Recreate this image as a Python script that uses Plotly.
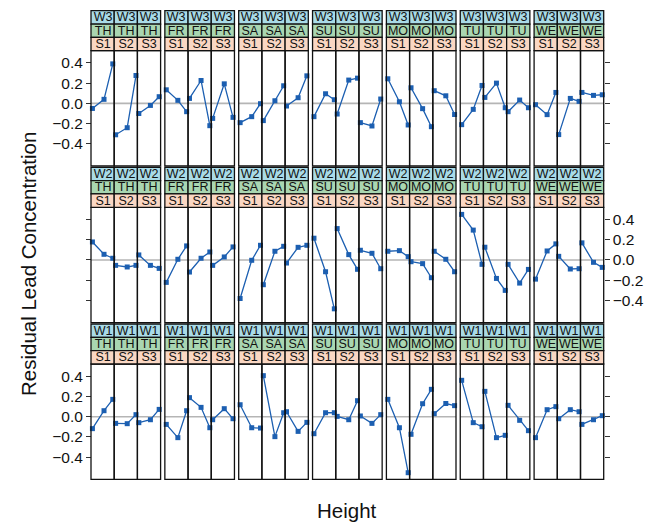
import math
import plotly.graph_objects as go

# ---- data -------------------------------------------------------------
weeks = ["W3", "W2", "W1"]                     # panel rows, top to bottom
days = ["TH", "FR", "SA", "SU", "MO", "TU", "WE"]
sites = ["S1", "S2", "S3"]
heights = [2, 5, 10]                           # sampling heights (log scale)
tick_vals = [-0.4, -0.2, 0.0, 0.2, 0.4]

# residuals[week][day] -> three sites, each with values at the three heights
resid_w3 = {
    "TH": [[-0.05, 0.04, 0.39], [-0.31, -0.24, 0.275], [-0.10, -0.02, 0.066]],
    "FR": [[0.134, 0.03, -0.082], [0.049, 0.226, -0.22], [-0.148, 0.193, -0.138]],
    "SA": [[-0.19, -0.131, -0.003], [-0.17, 0.026, 0.174], [-0.026, 0.056, 0.272]],
    "SU": [[-0.131, 0.095, 0.036], [-0.105, 0.23, 0.249], [-0.19, -0.223, 0.043]],
    "MO": [[0.243, 0.016, -0.213], [0.154, -0.052, -0.23], [0.125, 0.075, -0.11]],
    "TU": [[-0.21, -0.059, 0.177], [0.059, 0.20, -0.043], [-0.082, 0.033, -0.043]],
    "WE": [[-0.013, -0.111, 0.108], [-0.308, 0.049, 0.02], [0.108, 0.079, 0.085]],
}
resid_w2 = {
    "TH": [[0.178, 0.056, 0.017], [-0.053, -0.069, -0.053], [0.05, -0.053, -0.083]],
    "FR": [[-0.221, 0.007, 0.139], [-0.119, 0.017, 0.079], [-0.053, 0.03, 0.129]],
    "SA": [[-0.38, -0.003, 0.145], [-0.244, 0.086, 0.135], [-0.03, 0.125, 0.145]],
    "SU": [[0.215, -0.116, -0.482], [0.31, 0.053, -0.092], [0.096, 0.066, -0.086]],
    "MO": [[0.086, 0.092, 0.033], [-0.017, -0.036, -0.175], [0.086, 0.007, -0.116]],
    "TU": [[0.45, 0.295, -0.043], [0.126, -0.182, -0.30], [-0.043, -0.228, -0.093]],
    "WE": [[-0.189, 0.089, 0.159], [0.036, -0.089, -0.086], [0.169, -0.023, -0.073]],
}
resid_w1 = {
    "TH": [[-0.118, 0.059, 0.171], [-0.066, -0.069, 0.02], [-0.059, -0.03, 0.072]],
    "FR": [[-0.076, -0.207, 0.059], [0.188, 0.092, -0.109], [-0.03, 0.079, -0.02]],
    "SA": [[0.118, -0.109, -0.112], [0.405, -0.197, 0.039], [0.049, -0.145, -0.056]],
    "SU": [[-0.168, 0.039, 0.039], [0.003, -0.03, 0.158], [0.007, -0.066, 0.02]],
    "MO": [[0.171, -0.109, -0.553], [-0.174, 0.128, 0.27], [0.03, 0.13, 0.109]],
    "TU": [[0.359, -0.059, -0.099], [0.25, -0.207, -0.184], [0.112, -0.036, -0.138]],
    "WE": [[-0.207, 0.069, 0.099], [-0.02, 0.069, 0.049], [-0.076, -0.03, 0.01]],
}
residuals = {"W3": resid_w3, "W2": resid_w2, "W1": resid_w1}

# ---- layout geometry (pixels) ------------------------------------------
W, H = 660, 523
left0, group_step, group_w = 91.0, 73.85, 69.6
right_edge = left0 + 6 * group_step + group_w
panel_w = group_w / 3
row_tops = [50.7, 207.3, 364.0]
panel_h = 115.3
strip_h = 13.33
y_range = [-0.618, 0.52]
lx = math.log10(heights[0]); hx = math.log10(heights[-1])
pad = 0.07 * (hx - lx)
x_range = [lx - pad, hx + pad]

line_col = "#1c5fb1"
strip_cols = ["#a9dbe7", "#a9d6b1", "#fad7c3"]   # week, day, site


def px(x):
    return x / W


def py(y):
    return 1 - y / H


fig = go.Figure()
layout = dict(
    width=W, height=H, margin=dict(l=0, r=0, t=0, b=0),
    paper_bgcolor="white", plot_bgcolor="rgba(0,0,0,0)",
    showlegend=False,
    font=dict(family="Liberation Sans, Arial, sans-serif", color="#111"),
)
shapes, annotations = [], []

# one x-axis per panel column
for g in range(len(days)):
    for s in range(len(sites)):
        col = g * 3 + s
        x0 = left0 + g * group_step + s * panel_w
        name = "xaxis" if col == 0 else f"xaxis{col + 1}"
        layout[name] = dict(
            domain=[px(x0), px(x0 + panel_w)], type="log", range=x_range,
            showticklabels=False, showgrid=False, zeroline=False, ticks="",
            showline=False, anchor="y", fixedrange=True,
        )

# y-axes: one per row on the left, plus a right-hand overlay per row
tick_font = dict(size=15.5, color="#111")
for r in range(3):
    top = row_tops[r]
    dom = [py(top + panel_h), py(top)]
    common = dict(
        domain=dom, range=y_range, tickvals=tick_vals, tickformat=".1f",
        ticks="outside", ticklen=5, tickwidth=1.2, tickcolor="#333",
        showgrid=False, zeroline=False, showline=False, anchor="free",
        tickfont=tick_font, fixedrange=True,
    )
    lname = "yaxis" if r == 0 else f"yaxis{r + 1}"
    layout[lname] = dict(common, side="left", position=px(left0),
                         showticklabels=(r != 1))
    layout[f"yaxis{r + 4}"] = dict(common, side="right", position=px(right_edge),
                                   overlaying="y" if r == 0 else f"y{r + 1}",
                                   showticklabels=(r == 1))
    # empty trace so the right-hand axis gets its own subplot
    fig.add_trace(go.Scatter(x=[None], y=[None], xaxis="x21", yaxis=f"y{r + 4}",
                             mode="markers", hoverinfo="skip"))

# traces, panels, strips
for r, wk in enumerate(weeks):
    top = row_tops[r]
    yref = "y" if r == 0 else f"y{r + 1}"
    for g, day in enumerate(days):
        gx0 = left0 + g * group_step
        # reference line at zero across the group
        shapes.append(dict(type="line", xref="paper", yref=yref,
                           x0=px(gx0), x1=px(gx0 + group_w), y0=0, y1=0,
                           line=dict(color="#b5b5b5", width=1.6), layer="below"))
        for s, site in enumerate(sites):
            col = g * 3 + s
            xref = "x" if col == 0 else f"x{col + 1}"
            fig.add_trace(go.Scatter(
                x=heights, y=residuals[wk][day][s], xaxis=xref, yaxis=yref,
                mode="lines+markers", cliponaxis=False,
                line=dict(color=line_col, width=1.3),
                marker=dict(symbol="square", size=5, color=line_col),
                hoverinfo="skip",
            ))
            x0 = gx0 + s * panel_w
            x1 = x0 + panel_w
            # panel frame
            shapes.append(dict(type="rect", xref="paper", yref="paper",
                               x0=px(x0), x1=px(x1), y0=py(top + panel_h), y1=py(top),
                               line=dict(color="#111", width=1.3), layer="above"))
            # strips: week, day, site
            labels = [wk, day, site]
            for k in range(3):
                sy0 = top - (3 - k) * strip_h
                shapes.append(dict(type="rect", xref="paper", yref="paper",
                                   x0=px(x0), x1=px(x1),
                                   y0=py(sy0 + strip_h), y1=py(sy0),
                                   fillcolor=strip_cols[k],
                                   line=dict(color="#111", width=1.3)))
                annotations.append(dict(
                    text=labels[k], xref="paper", yref="paper",
                    x=px((x0 + x1) / 2), y=py(sy0 + strip_h / 2),
                    showarrow=False, xanchor="center", yanchor="middle",
                    width=panel_w - 1, height=strip_h - 1.5,
                    borderpad=0, valign="middle",
                    font=dict(size=12.5, color="#111")))

# axis titles
annotations.append(dict(text="Height", xref="paper", yref="paper",
                        x=px((left0 + right_edge) / 2),
                        y=py(510), showarrow=False, xanchor="center",
                        yanchor="middle", font=dict(size=20.5, color="#111")))
annotations.append(dict(text="Residual Lead Concentration", xref="paper",
                        yref="paper", x=px(28), y=py(264), textangle=-90,
                        showarrow=False, xanchor="center", yanchor="middle",
                        font=dict(size=20.5, color="#111")))

layout["shapes"] = shapes
layout["annotations"] = annotations
fig.update_layout(**layout)
fig.write_html("out.html")
